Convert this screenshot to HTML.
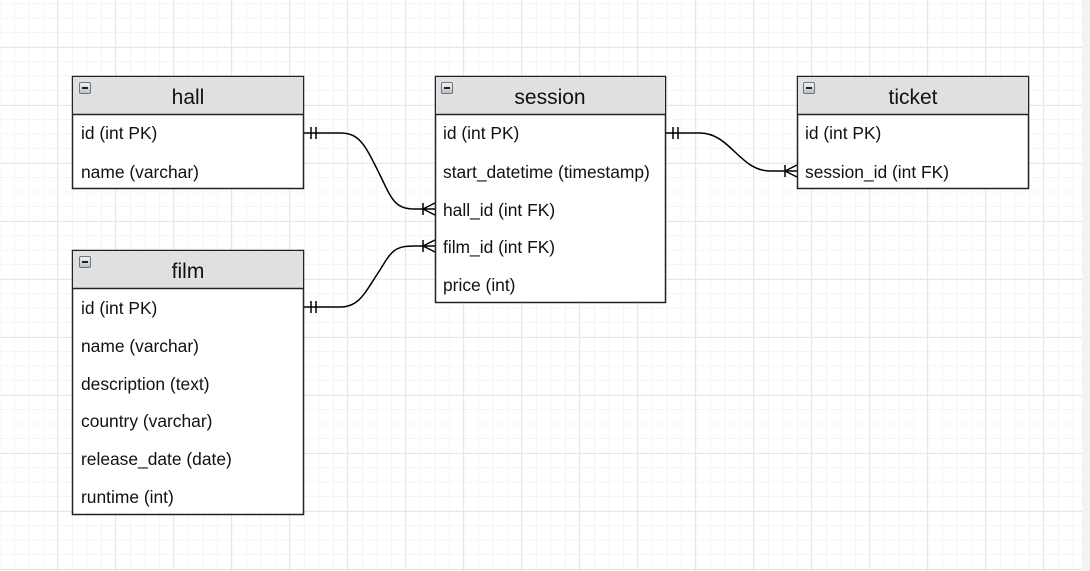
<!DOCTYPE html>
<html><head><meta charset="utf-8"><style>
html,body{margin:0;padding:0;background:#fff;}
svg{display:block;font-family:"Liberation Sans",Arial,sans-serif;}
</style></head><body>
<svg width="1090" height="571" viewBox="0 0 1090 571" xmlns="http://www.w3.org/2000/svg">
<defs>
<pattern id="minor" x="-0.5" y="3" width="14.5" height="14.5" patternUnits="userSpaceOnUse">
<path d="M0 0.5H14.5M0.5 0V14.5" stroke="#f5f5f5" stroke-width="1" fill="none"/>
</pattern>
<pattern id="major" x="57" y="47" width="58" height="58" patternUnits="userSpaceOnUse">
<path d="M0 0.5H58M0.5 0V58" stroke="#e6e6e6" stroke-width="1" fill="none"/>
</pattern>
<linearGradient id="ig" x1="0" y1="0" x2="0" y2="1"><stop offset="0" stop-color="#f4f4f4"/><stop offset="1" stop-color="#b8bec6"/></linearGradient>
<g id="icon"><rect x="0.5" y="0.5" width="11" height="11" rx="1.5" fill="url(#ig)" stroke="#6b7480"/><rect x="3" y="5" width="6" height="2" fill="#222"/></g>
</defs>
<rect width="1082" height="571" fill="url(#minor)"/>
<rect width="1082" height="571" fill="url(#major)"/>
<rect x="1082" y="0" width="8" height="571" fill="#f3f3f3"/>

<g stroke="#000" stroke-width="1.5" fill="none">
<path d="M304 133 H340 C360 133 365 145 380 175 C392 200 395 209 415 209 H435"/>
<path d="M304 307 H340 C360 307 365 292 380 270 C392 250 395 246 415 246 H435"/>
<path d="M666 133 H700 C730 133 740 171 770 171 H797"/>
<path d="M311 127V139M316 127V139"/>
<path d="M311 301V313M316 301V313"/>
<path d="M673 127V139M678 127V139"/>
<path d="M423 203V215M423 209L435 203M423 209L435 215"/>
<path d="M423 240V252M423 246L435 240M423 246L435 252"/>
<path d="M785 165V177M785 171L797 165M785 171L797 177"/>
</g>

<g font-size="17.4" fill="#111">
<rect x="72.5" y="76.5" width="231" height="112" fill="#fff" stroke="#222" stroke-width="1.5"/>
<rect x="73" y="77" width="230" height="37" fill="#e0e0e0"/>
<line x1="72.5" y1="114.5" x2="303.5" y2="114.5" stroke="#222" stroke-width="1.5"/>
<use href="#icon" x="79" y="82"/>
<text x="188" y="104" font-size="21" text-anchor="middle">hall</text>
<text x="81" y="139">id (int PK)</text>
<text x="81" y="178">name (varchar)</text>

<rect x="72.5" y="250.5" width="231" height="264" fill="#fff" stroke="#222" stroke-width="1.5"/>
<rect x="73" y="251" width="230" height="37" fill="#e0e0e0"/>
<line x1="72.5" y1="288.5" x2="303.5" y2="288.5" stroke="#222" stroke-width="1.5"/>
<use href="#icon" x="79" y="256"/>
<text x="188" y="278" font-size="21" text-anchor="middle">film</text>
<text x="81" y="314">id (int PK)</text>
<text x="81" y="352">name (varchar)</text>
<text x="81" y="390">description (text)</text>
<text x="81" y="427">country (varchar)</text>
<text x="81" y="465">release_date (date)</text>
<text x="81" y="503">runtime (int)</text>

<rect x="435.5" y="76.5" width="230" height="226" fill="#fff" stroke="#222" stroke-width="1.5"/>
<rect x="436" y="77" width="229" height="37" fill="#e0e0e0"/>
<line x1="435.5" y1="114.5" x2="665.5" y2="114.5" stroke="#222" stroke-width="1.5"/>
<use href="#icon" x="441" y="82"/>
<text x="550" y="104" font-size="21" text-anchor="middle">session</text>
<text x="443" y="139">id (int PK)</text>
<text x="443" y="178">start_datetime (timestamp)</text>
<text x="443" y="216">hall_id (int FK)</text>
<text x="443" y="253">film_id (int FK)</text>
<text x="443" y="291">price (int)</text>

<rect x="797.5" y="76.5" width="231" height="112" fill="#fff" stroke="#222" stroke-width="1.5"/>
<rect x="798" y="77" width="230" height="37" fill="#e0e0e0"/>
<line x1="797.5" y1="114.5" x2="1028.5" y2="114.5" stroke="#222" stroke-width="1.5"/>
<use href="#icon" x="803" y="82"/>
<text x="913" y="104" font-size="21" text-anchor="middle">ticket</text>
<text x="805" y="139">id (int PK)</text>
<text x="805" y="178">session_id (int FK)</text>
</g>
</svg>
</body></html>
